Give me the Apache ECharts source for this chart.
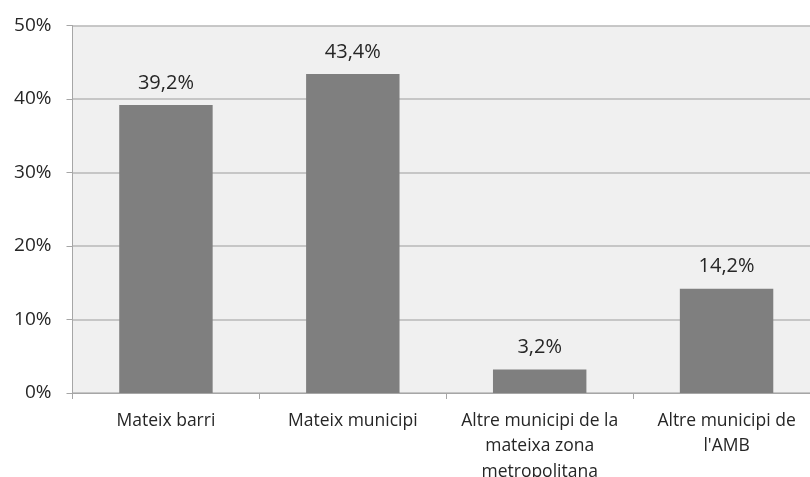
<!DOCTYPE html>
<html>
<head>
<meta charset="utf-8">
<script src="https://cdn.jsdelivr.net/npm/echarts@6/dist/echarts.min.js"></script>
<style>
  html, body { margin: 0; padding: 0; background: #fff; overflow: hidden; }
  #chart { width: 820px; height: 477px; }
</style>
</head>
<body>
<div id="chart"></div>
<script>
const categories = ['Mateix barri', 'Mateix municipi', 'Altre municipi de la\nmateixa zona\nmetropolitana', "Altre municipi de\nl'AMB"]
const values = [39.2, 43.4, 3.2, 14.2]

const chart = echarts.init(document.getElementById('chart'))
const font = 'Open Sans, Liberation Sans, sans-serif'

chart.setOption({
  animation: false,
  grid: {
    left: 72.5,
    right: 0,
    top: 25.5,
    bottom: 84,
    outerBoundsMode: 'none',
    containLabel: false,
    show: true,
    backgroundColor: '#f0f0f0',
    borderWidth: 0
  },
  xAxis: {
    type: 'category',
    data: categories,
    axisLine: { lineStyle: { color: '#a6a6a6' } },
    axisTick: { show: true, length: 6, lineStyle: { color: '#a6a6a6' } },
    axisLabel: {
      interval: 0,
      color: '#262626',
      fontFamily: font,
      fontSize: 17.5,
      lineHeight: 25.5,
      margin: 15
    }
  },
  yAxis: {
    type: 'value',
    min: 0,
    max: 50,
    interval: 10,
    axisLine: { show: true, lineStyle: { color: '#a6a6a6' } },
    axisTick: { show: true, length: 6, lineStyle: { color: '#a6a6a6' } },
    splitLine: { lineStyle: { color: '#b8b8b8', width: 1.5 } },
    axisLabel: {
      formatter: '{value}%',
      color: '#262626',
      fontFamily: font,
      fontSize: 19,
      margin: 21
    }
  },
  series: [{
    type: 'bar',
    data: values,
    barWidth: '50%',
    itemStyle: { color: '#7f7f7f' },
    label: {
      show: true,
      position: 'top',
      distance: 12,
      color: '#262626',
      fontFamily: font,
      fontSize: 20,
      formatter: p => p.value.toFixed(1).replace('.', ',') + '%'
    }
  }]
})
</script>
</body>
</html>
